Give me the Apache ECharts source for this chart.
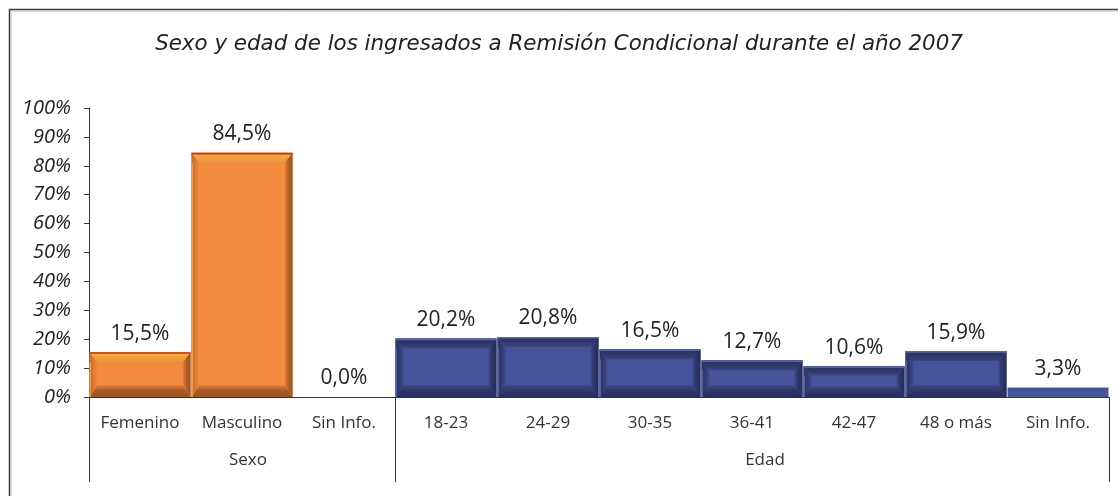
<!DOCTYPE html>
<html>
<head>
<meta charset="utf-8">
<title>Sexo y edad de los ingresados a Remisión Condicional durante el año 2007</title>
<script src="https://cdn.jsdelivr.net/npm/echarts@6/dist/echarts.min.js"></script>
<style>
  html, body { margin: 0; padding: 0; background: #ffffff; }
  #chart { width: 1118px; height: 496px; }
</style>
</head>
<body>
<div id="chart"></div>
<script>
// Groups and their categories
const sexoCategories = ['Femenino', 'Masculino', 'Sin Info.'];
const sexoValues = [15.5, 84.5, 0.0];
const edadCategories = ['18-23', '24-29', '30-35', '36-41', '42-47', '48 o más', 'Sin Info.'];
const edadValues = [20.2, 20.8, 16.5, 12.7, 10.6, 15.9, 3.3];
const groupNames = ['Sexo', 'Edad'];
const yTicks = [0, 10, 20, 30, 40, 50, 60, 70, 80, 90, 100];

const FONT = '"Open Sans", "Noto Sans", sans-serif';
const TITLE_FONT = '"DejaVu Sans", Verdana, sans-serif';

// Flattened axis data; each bar remembers which group it belongs to
const categories = sexoCategories.concat(edadCategories);
const barData = sexoValues.map(function (v) { return [v, 0]; })
  .concat(edadValues.map(function (v) { return [v, 1]; }));

// Palettes for the bevelled bars (orange for Sexo, blue for Edad)
const palettes = [
  { face: '#f48b3f', edge: '#d42a1e', highlight: '#f79a4c',
    top: ['#f3b43a', '#f0a23c', '#e8923e'],
    left: ['#c26b2e', '#dc7d37', '#f08a40'],
    right: ['#99521f', '#b4622b', '#e8853d'],
    bottom: ['#9a5323', '#a85b28', '#e0823c'] },
  { face: '#46559b', edge: '#5565ad', highlight: '#5363aa',
    top: ['#27305c', '#2e3969', '#3a4784'],
    left: ['#2a3463', '#313c71', '#3f4d8f'],
    right: ['#242c55', '#2c366a', '#3d4a8c'],
    bottom: ['#262f5c', '#2e3868', '#3c4989'] }
];

// Gradient from the outer edge (stop 0) to the inner edge of a bevel face
function grad(x0, y0, x1, y1, stops) {
  return new echarts.graphic.LinearGradient(x0, y0, x1, y1, [
    { offset: 0, color: stops[0] },
    { offset: 0.55, color: stops[1] },
    { offset: 1, color: stops[2] }
  ]);
}

function bevelBar(params, api) {
  const idx = params.dataIndex;
  const val = api.value(1);
  const grp = api.value(2);
  const pal = palettes[grp];
  const band = api.size([1, 0])[0];
  const topPt = api.coord([idx, val]);
  const basePt = api.coord([idx, 0]);
  const L = topPt[0] - band / 2 + 0.5;
  const R = topPt[0] + band / 2 - 0.5;
  const T = topPt[1];
  const B = basePt[1];
  const h = B - T;
  const children = [];
  const labelText = val.toFixed(1).replace('.', ',') + '%';

  if (h > 0.5) {
    children.push({ type: 'rect', shape: { x: L, y: T, width: R - L, height: h },
      style: { fill: pal.face } });
    if (h > 14) {
      const b = Math.min(10, h * 0.3);
      const bb = Math.min(12, h * 0.35);
      const s = 8;
      children.push({ type: 'polygon',
        shape: { points: [[L, B], [R, B], [R - s, B - bb], [L + s, B - bb]] },
        style: { fill: grad(0, 1, 0, 0, pal.bottom) } });
      children.push({ type: 'polygon',
        shape: { points: [[L, T], [L + s, T + b], [L + s, B - bb], [L, B]] },
        style: { fill: grad(0, 0, 1, 0, pal.left) } });
      children.push({ type: 'polygon',
        shape: { points: [[R, T], [R - s, T + b], [R - s, B - bb], [R, B]] },
        style: { fill: grad(1, 0, 0, 0, pal.right) } });
      children.push({ type: 'polygon',
        shape: { points: [[L, T], [R, T], [R - s, T + b], [L + s, T + b]] },
        style: { fill: grad(0, 0, 0, 1, pal.top) } });
      children.push({ type: 'rect', shape: { x: L, y: T, width: R - L, height: 1.6 },
        style: { fill: pal.edge } });
      children.push({ type: 'rect', shape: { x: L, y: T + b, width: 1.5, height: h - b },
        style: { fill: pal.highlight, opacity: 0.9 } });
    }
  }
  children.push({ type: 'text',
    style: { text: labelText, x: topPt[0], y: T - 8, align: 'center', verticalAlign: 'bottom',
      font: '500 21px ' + FONT, fill: '#222222' } });
  return { type: 'group', children: children };
}

const chart = echarts.init(document.getElementById('chart'), null, { renderer: 'canvas' });

chart.setOption({
  backgroundColor: '#ffffff',
  animation: false,
  title: {
    text: 'Sexo y edad de los ingresados a Remisión Condicional durante el año 2007',
    left: 'center', top: 29,
    textStyle: { fontFamily: TITLE_FONT, fontStyle: 'italic', fontWeight: 'normal',
      fontSize: 21.4, color: '#222222' }
  },
  graphic: [
    { type: 'polyline', shape: { points: [[9.5, 496], [9.5, 9.5], [1118, 9.5]] },
      style: { stroke: '#3a3a3a', lineWidth: 1.5, fill: null } },
    { type: 'polyline', shape: { points: [[11, 496], [11, 11], [1118, 11]] },
      style: { stroke: '#bdbdbd', lineWidth: 1, fill: null } }
  ],
  grid: { left: 89, right: 9, top: 108, bottom: 99, containLabel: false },
  xAxis: [
    {
      type: 'category', data: categories, position: 'bottom',
      axisLine: { show: true, lineStyle: { color: '#333333', width: 1 } },
      axisTick: {
        show: true, length: 85, alignWithLabel: false,
        interval: function (index) { return index === 0 || index === sexoCategories.length; },
        lineStyle: { color: '#333333', width: 1 }
      },
      axisLabel: { interval: 0, margin: 18, fontFamily: FONT, fontSize: 17, color: '#333333' }
    },
    {
      type: 'category', data: categories, position: 'bottom', offset: 0,
      axisLine: { show: false }, axisTick: { show: false },
      axisLabel: {
        interval: 0, margin: 55, fontFamily: FONT, fontSize: 17, color: '#333333',
        formatter: function (v, i) {
          if (i === 1) return '{s|' + groupNames[0] + '}';
          if (i === sexoCategories.length + 3) return '{e|' + groupNames[1] + '}';
          return '';
        },
        rich: {
          s: { fontFamily: FONT, fontSize: 17, color: '#333333', padding: [0, 0, 0, 12] },
          e: { fontFamily: FONT, fontSize: 17, color: '#333333', padding: [0, 0, 0, 26] }
        }
      }
    }
  ],
  yAxis: {
    type: 'value', min: yTicks[0], max: yTicks[yTicks.length - 1], interval: 10,
    axisLine: { show: true, lineStyle: { color: '#333333', width: 1 } },
    axisTick: { show: true, length: 5, lineStyle: { color: '#333333' } },
    splitLine: { show: false },
    axisLabel: { margin: 18, fontFamily: FONT, fontStyle: 'italic', fontSize: 20, color: '#222222',
      formatter: '{value}%' }
  },
  series: [{
    type: 'custom',
    xAxisIndex: 0,
    renderItem: bevelBar,
    encode: { x: 0, y: 1 },
    data: barData.map(function (d, i) { return [i, d[0], d[1]]; }),
    clip: false
  }]
});
</script>
</body>
</html>
